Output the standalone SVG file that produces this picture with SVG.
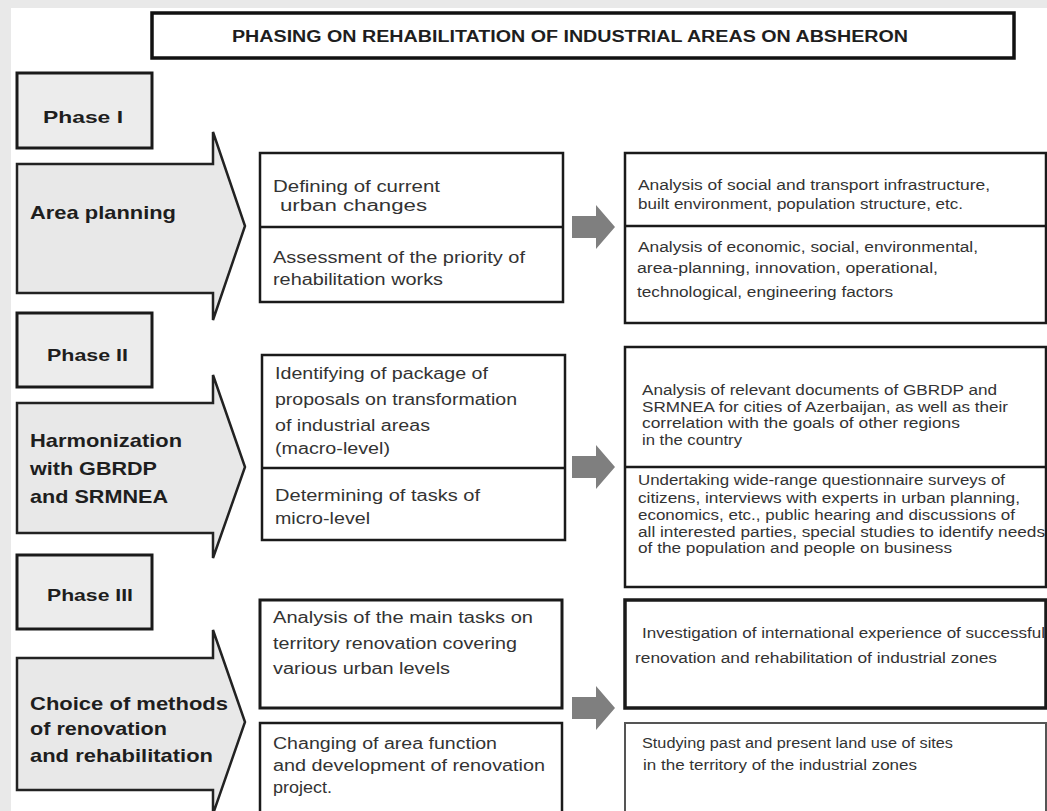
<svg xmlns="http://www.w3.org/2000/svg" width="1047" height="811" viewBox="0 0 1047 811">
<style>
.bg{fill:#ffffff}
.strip{fill:#e9e9e9}
.phase{fill:#ececec;stroke:#1a1a1a;stroke-width:3}
.big{fill:#e8e8e8;stroke:#222;stroke-width:2.5;stroke-linejoin:miter}
.box{fill:#ffffff;stroke:#1a1a1a;stroke-width:2.5}
.div{stroke:#1a1a1a;stroke-width:2.5}
.title{fill:#ffffff;stroke:#111;stroke-width:3.5}
.conn{fill:#7f7f7f}
text{font-family:"Liberation Sans",Arial,sans-serif;fill:#1e1e1e}
.tt{font-size:16px;font-weight:bold}
.lab{font-size:17px;font-weight:bold}
.blab{font-size:19px;font-weight:bold}
.mid{font-size:16px;fill:#333}
.rt{font-size:14px;fill:#333}
</style>
<rect class="bg" x="0" y="0" width="1047" height="811"/>
<rect class="strip" x="0" y="0" width="1047" height="8"/>
<rect class="strip" x="0" y="0" width="11" height="811"/>

<g id="title">
<rect class="title" x="152" y="13" width="862" height="45"/>
<text class="tt" x="232" y="42" textLength="676" lengthAdjust="spacingAndGlyphs">PHASING ON REHABILITATION OF INDUSTRIAL AREAS ON ABSHERON</text>
</g>

<g id="phase1">
<rect class="phase" x="17" y="73" width="135" height="75"/>
<text class="lab" x="43" y="123" textLength="80" lengthAdjust="spacingAndGlyphs">Phase I</text>
</g>
<g id="area-planning">
<polygon class="big" points="17,164 213,164 213,132 245,226 213,320 213,293 17,293"/>
<text class="blab" x="30" y="219" textLength="146" lengthAdjust="spacingAndGlyphs">Area planning</text>
</g>

<g id="phase2">
<rect class="phase" x="17" y="313" width="135" height="74"/>
<text class="lab" x="47" y="361" textLength="81" lengthAdjust="spacingAndGlyphs">Phase II</text>
</g>
<g id="harmonization">
<polygon class="big" points="17,403 213,403 213,375 245,467 213,558 213,533 17,533"/>
<text class="blab" x="30" y="447" textLength="152" lengthAdjust="spacingAndGlyphs">Harmonization</text>
<text class="blab" x="30" y="475" textLength="127" lengthAdjust="spacingAndGlyphs">with GBRDP</text>
<text class="blab" x="30" y="503" textLength="138" lengthAdjust="spacingAndGlyphs">and SRMNEA</text>
</g>

<g id="phase3">
<rect class="phase" x="17" y="555" width="135" height="74"/>
<text class="lab" x="47" y="601" textLength="86" lengthAdjust="spacingAndGlyphs">Phase III</text>
</g>
<g id="choice">
<polygon class="big" points="17,658 213,658 213,630 245,722 213,814 213,790 17,790"/>
<text class="blab" x="30" y="710" textLength="198" lengthAdjust="spacingAndGlyphs">Choice of methods</text>
<text class="blab" x="30" y="735" textLength="137" lengthAdjust="spacingAndGlyphs">of renovation</text>
<text class="blab" x="30" y="762" textLength="183" lengthAdjust="spacingAndGlyphs">and rehabilitation</text>
</g>

<g id="tasks1">
<rect class="box" x="260" y="153" width="303" height="149"/>
<line class="div" x1="260" y1="227" x2="563" y2="227"/>
<text class="mid" x="273" y="192" textLength="167" lengthAdjust="spacingAndGlyphs">Defining of current</text>
<text class="mid" x="280" y="211" textLength="147" lengthAdjust="spacingAndGlyphs">urban changes</text>
<text class="mid" x="273" y="263" textLength="252" lengthAdjust="spacingAndGlyphs">Assessment of the priority of</text>
<text class="mid" x="273" y="285" textLength="170" lengthAdjust="spacingAndGlyphs">rehabilitation works</text>
</g>

<g id="analysis1">
<rect class="box" x="625" y="153" width="421" height="170"/>
<line class="div" x1="625" y1="226" x2="1046" y2="226"/>
<text class="rt" x="638" y="190" textLength="352" lengthAdjust="spacingAndGlyphs">Analysis of social and transport infrastructure,</text>
<text class="rt" x="638" y="209" textLength="325" lengthAdjust="spacingAndGlyphs">built environment, population structure, etc.</text>
<text class="rt" x="638" y="252" textLength="340" lengthAdjust="spacingAndGlyphs">Analysis of economic, social, environmental,</text>
<text class="rt" x="637" y="273" textLength="301" lengthAdjust="spacingAndGlyphs">area-planning, innovation, operational,</text>
<text class="rt" x="637" y="297" textLength="256" lengthAdjust="spacingAndGlyphs">technological, engineering factors</text>
</g>

<g id="tasks2">
<rect class="box" x="262" y="355" width="303" height="185"/>
<line class="div" x1="262" y1="468" x2="565" y2="468"/>
<text class="mid" x="275" y="379" textLength="213" lengthAdjust="spacingAndGlyphs">Identifying of package of</text>
<text class="mid" x="275" y="405" textLength="242" lengthAdjust="spacingAndGlyphs">proposals on transformation</text>
<text class="mid" x="275" y="431" textLength="155" lengthAdjust="spacingAndGlyphs">of industrial areas</text>
<text class="mid" x="275" y="454" textLength="115" lengthAdjust="spacingAndGlyphs">(macro-level)</text>
<text class="mid" x="275" y="501" textLength="205" lengthAdjust="spacingAndGlyphs">Determining of tasks of</text>
<text class="mid" x="275" y="524" textLength="95" lengthAdjust="spacingAndGlyphs">micro-level</text>
</g>

<g id="analysis2">
<rect class="box" x="625" y="347" width="421" height="240"/>
<line class="div" x1="625" y1="467" x2="1046" y2="467"/>
<text class="rt" x="642" y="395" textLength="355" lengthAdjust="spacingAndGlyphs">Analysis of relevant documents of GBRDP and</text>
<text class="rt" x="642" y="412" textLength="366" lengthAdjust="spacingAndGlyphs">SRMNEA for cities of Azerbaijan, as well as their</text>
<text class="rt" x="642" y="428" textLength="318" lengthAdjust="spacingAndGlyphs">correlation with the goals of other regions</text>
<text class="rt" x="642" y="445" textLength="100" lengthAdjust="spacingAndGlyphs">in the country</text>
<text class="rt" x="638" y="485" textLength="367" lengthAdjust="spacingAndGlyphs">Undertaking wide-range questionnaire surveys of</text>
<text class="rt" x="638" y="503" textLength="382" lengthAdjust="spacingAndGlyphs">citizens, interviews with experts in urban planning,</text>
<text class="rt" x="638" y="520" textLength="377" lengthAdjust="spacingAndGlyphs">economics, etc., public hearing and discussions of</text>
<text class="rt" x="638" y="537" textLength="407" lengthAdjust="spacingAndGlyphs">all interested parties, special studies to identify needs</text>
<text class="rt" x="638" y="553" textLength="314" lengthAdjust="spacingAndGlyphs">of the population and people on business</text>
</g>

<g id="tasks3a">
<rect class="box" x="260" y="600" width="302" height="108" style="stroke-width:3"/>
<text class="mid" x="273" y="623" textLength="260" lengthAdjust="spacingAndGlyphs">Analysis of the main tasks on</text>
<text class="mid" x="273" y="649" textLength="244" lengthAdjust="spacingAndGlyphs">territory renovation covering</text>
<text class="mid" x="273" y="674" textLength="177" lengthAdjust="spacingAndGlyphs">various urban levels</text>
</g>
<g id="tasks3b">
<rect class="box" x="260" y="723" width="302" height="100"/>
<text class="mid" x="273" y="749" textLength="224" lengthAdjust="spacingAndGlyphs">Changing of area function</text>
<text class="mid" x="273" y="771" textLength="272" lengthAdjust="spacingAndGlyphs">and development of renovation</text>
<text class="mid" x="273" y="793" textLength="59" lengthAdjust="spacingAndGlyphs">project.</text>
</g>

<g id="analysis3a">
<rect class="box" x="625" y="600" width="421" height="108" style="stroke-width:3.5"/>
<text class="rt" x="642" y="638" textLength="403" lengthAdjust="spacingAndGlyphs">Investigation of international experience of successful</text>
<text class="rt" x="635" y="663" textLength="362" lengthAdjust="spacingAndGlyphs">renovation and rehabilitation of industrial zones</text>
</g>
<g id="analysis3b">
<rect class="box" x="625" y="723" width="421" height="100" style="stroke:#555;stroke-width:2"/>
<text class="rt" x="642" y="748" textLength="311" lengthAdjust="spacingAndGlyphs">Studying past and present land use of sites</text>
<text class="rt" x="643" y="770" textLength="274" lengthAdjust="spacingAndGlyphs">in the territory of the industrial zones</text>
</g>

<g id="connectors">
<polygon class="conn" points="572,216 596,216 596,205 615,227 596,249 596,238 572,238"/>
<polygon class="conn" points="572,456 596,456 596,445 615,467 596,489 596,478 572,478"/>
<polygon class="conn" points="572,697 596,697 596,686 615,708 596,730 596,719 572,719"/>
</g>
</svg>
